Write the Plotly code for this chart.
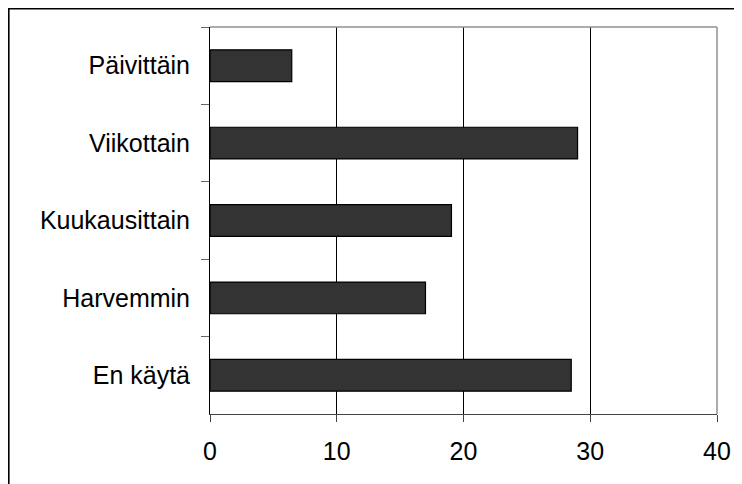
import plotly.graph_objects as go

categories = ["Päivittäin", "Viikottain", "Kuukausittain", "Harvemmin", "En käytä"]
values = [6.45, 29.0, 19.05, 17.0, 28.5]
x_ticks = [0, 10, 20, 30, 40]

FONT = "Liberation Sans, Arial, sans-serif"

# page body has an 8px margin; figure is offset by (8, 8)
W, H = 734, 476
L, T, R, B = 202, 19, 25, 70
PW, PH = W - L - R, H - T - B

fig = go.Figure()
fig.add_trace(go.Bar(
    y=categories, x=values, orientation="h",
    marker=dict(color="#333333", line=dict(color="#000000", width=1.2)),
    width=0.41, hoverinfo="skip",
))

fig.update_layout(
    width=W, height=H,
    margin=dict(l=L, r=R, t=T, b=B),
    paper_bgcolor="white", plot_bgcolor="white",
    showlegend=False,
    font=dict(family=FONT, size=25, color="#000000"),
    xaxis=dict(
        range=[0, 40], tickvals=x_ticks, ticktext=[str(v) for v in x_ticks],
        showgrid=True, gridcolor="#000000", gridwidth=1,
        showline=True, linecolor="#444444", linewidth=1,
        ticks="outside", ticklen=7, tickcolor="#444444", tickwidth=1,
        ticklabelstandoff=8, zeroline=False, fixedrange=True,
    ),
    yaxis=dict(
        categoryorder="array", categoryarray=categories, autorange="reversed",
        showgrid=False, showline=True, linecolor="#000000", linewidth=1,
        ticks="outside", tickson="boundaries", ticklen=8, tickcolor="#666666",
        tickwidth=1, ticklabelstandoff=14, zeroline=False, fixedrange=True,
    ),
    shapes=[
        dict(type="line", xref="paper", yref="paper", x0=0, x1=1, y0=1, y1=1,
             line=dict(color="#909090", width=1.5), layer="above"),
        dict(type="line", xref="paper", yref="paper", x0=1, x1=1, y0=0, y1=1,
             line=dict(color="#909090", width=1.5), layer="above"),
        # outer chart frame (top and left edges visible)
        dict(type="rect", xref="paper", yref="paper",
             x0=(0.5 - L) / PW, x1=1.3, y0=1 + (T - 0.5) / PH, y1=-0.5,
             line=dict(color="#000000", width=2.2), layer="above"),
    ],
)

fig.write_html("out.html")
